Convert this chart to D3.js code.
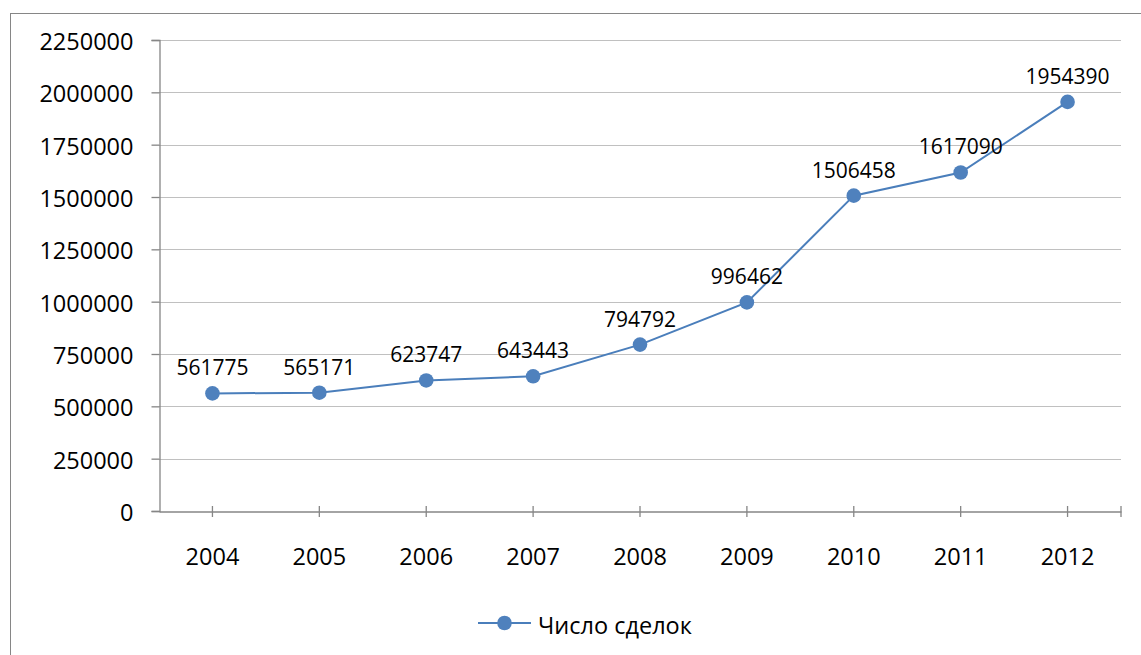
<!DOCTYPE html>
<html><head><meta charset="utf-8">
<script src="https://cdn.jsdelivr.net/npm/d3@7"></script>
<style>html,body{margin:0;padding:0;background:#fff;}svg{display:block;}</style>
</head><body>
<script>
const years = ["2004","2005","2006","2007","2008","2009","2010","2011","2012"];
const deals = [561775, 565171, 623747, 643443, 794792, 996462, 1506458, 1617090, 1954390];
const yTicks = [0, 250000, 500000, 750000, 1000000, 1250000, 1500000, 1750000, 2000000, 2250000];
const seriesName = "Число сделок";

(function () {
const W = 1141, H = 655;
const font = "'Open Sans', sans-serif";
const svg = d3.select("body").append("svg").attr("width", W).attr("height", H);

svg.append("rect").attr("x", 10.5).attr("y", 13.5).attr("width", 1140).attr("height", 650)
  .attr("fill", "#fff").attr("stroke", "#868686").attr("stroke-width", 1);

const pL = 159, pR = 1121, pT = 40, pB = 511;
const x = d3.scaleBand().domain(years).range([pL, pR]).paddingInner(0).paddingOuter(0);
const y = d3.scaleLinear().domain([0, 2250000]).range([pB, pT]);
const cx = d => x(d) + x.bandwidth() / 2;

// gridlines
svg.append("g").selectAll("line").data(yTicks.filter(t => t > 0)).join("line")
  .attr("x1", pL).attr("x2", pR)
  .attr("y1", d => Math.round(y(d)) + 0.5).attr("y2", d => Math.round(y(d)) + 0.5)
  .attr("stroke", "#c0c0c0").attr("stroke-width", 1.2);

// y axis
const yAxis = svg.append("g").attr("transform", `translate(${pL + 0.5},0)`)
  .call(d3.axisLeft(y).tickValues(yTicks).tickSize(8).tickPadding(18).tickFormat(d3.format("d")));
yAxis.select(".domain").attr("stroke", "#868686").attr("stroke-width", 1.3);
yAxis.selectAll(".tick line").attr("stroke", "#868686").attr("stroke-width", 1.3);
yAxis.selectAll(".tick text").attr("font-family", font).attr("font-size", "23.5px").attr("fill", "#000")
  .attr("y", 2);

// x axis
const xAxis = svg.append("g").attr("transform", `translate(0,${pB + 0.5})`)
  .call(d3.axisBottom(x).tickSize(0).tickPadding(37));
xAxis.select(".domain").attr("stroke", "#868686").attr("stroke-width", 1.3);
xAxis.selectAll(".tick text").attr("font-family", font).attr("font-size", "23.5px").attr("fill", "#000");
const tickPos = years.map(cx).concat([pR]);
svg.append("g").selectAll("line").data(tickPos).join("line")
  .attr("x1", d => d).attr("x2", d => d).attr("y1", pB - 5).attr("y2", pB + 6)
  .attr("stroke", "#868686").attr("stroke-width", 1.3);

// line
const line = d3.line().x((d, i) => cx(years[i])).y(d => y(d));
svg.append("path").datum(deals).attr("d", line).attr("fill", "none")
  .attr("stroke", "#4a7ebb").attr("stroke-width", 2);

svg.append("g").selectAll("circle").data(deals).join("circle")
  .attr("cx", (d, i) => cx(years[i])).attr("cy", d => y(d)).attr("r", 7.3)
  .attr("fill", "#4f81bd");

svg.append("g").selectAll("text").data(deals).join("text")
  .attr("x", (d, i) => cx(years[i])).attr("y", d => y(d) - 18)
  .attr("text-anchor", "middle").attr("font-family", font).attr("font-size", "21px")
  .attr("fill", "#000").text(d => d);

// legend
const lg = svg.append("g");
lg.append("line").attr("x1", 478).attr("x2", 531).attr("y1", 623).attr("y2", 623)
  .attr("stroke", "#4a7ebb").attr("stroke-width", 2);
lg.append("circle").attr("cx", 504.5).attr("cy", 623).attr("r", 7.3).attr("fill", "#4f81bd");
lg.append("text").attr("x", 538).attr("y", 634).attr("font-family", font).attr("font-size", "23.5px")
  .attr("fill", "#000").text(seriesName);
})();
</script>
</body></html>
